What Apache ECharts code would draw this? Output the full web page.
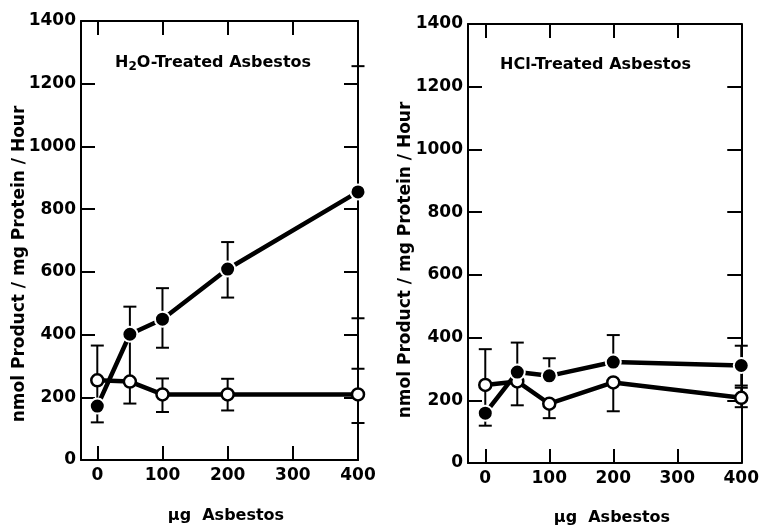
<!DOCTYPE html>
<html>
<head>
<meta charset="utf-8">
<script src="https://cdn.jsdelivr.net/npm/echarts@6/dist/echarts.min.js"></script>
<style>html,body{margin:0;padding:0;background:#fff}#c{width:762px;height:527px}</style>
</head>
<body>
<div id="c"></div>
<script>
// ---- data ----
const doses = [0, 50, 100, 200, 400];            // µg asbestos
const xTicks = [0, 100, 200, 300, 400];
const yTicks = [0, 200, 400, 600, 800, 1000, 1200, 1400];

// H2O-treated panel
const h2oFilled     = [172, 401, 449, 609, 855];
const h2oFilledLow  = [120, 250, 358, 518, 452];
const h2oFilledHigh = [254, 489, 548, 695, 1256];
const h2oOpen       = [254, 250, 209, 209, 209];
const h2oOpenLow    = [254, 180, 153, 158, 118];
const h2oOpenHigh   = [365, 250, 260, 259, 291];

// HCl-treated panel
const hclFilled     = [159, 290, 278, 322, 311];
const hclFilledLow  = [119, 290, 278, 322, 247];
const hclFilledHigh = [249, 384, 334, 408, 374];
const hclOpen       = [249, 260, 189, 257, 208];
const hclOpenLow    = [249, 184, 143, 165, 178];
const hclOpenHigh   = [363, 260, 189, 257, 240];

const FONT = 'DejaVu Sans';
const chart = echarts.init(document.getElementById('c'), null, {renderer: 'canvas'});

function pts(xs, ys) { return xs.map((x, i) => [x, ys[i]]); }
function errData(xs, v, lo, hi) { return xs.map((x, i) => [x, v[i], lo[i], hi[i]]); }

function errSeries(idx, data) {
  return {
    type: 'custom', xAxisIndex: idx * 2, yAxisIndex: idx * 2, z: 1, silent: true,
    data: data,
    renderItem: function (params, api) {
      const x = api.value(0), v = api.value(1), lo = api.value(2), hi = api.value(3);
      const pLo = api.coord([x, lo]), pHi = api.coord([x, hi]);
      const children = [{
        type: 'line', shape: {x1: pLo[0], y1: pLo[1], x2: pHi[0], y2: pHi[1]},
        style: {stroke: '#000', lineWidth: 2}
      }];
      const w = 6.5;
      if (lo !== v) children.push({type: 'line', shape: {x1: pLo[0] - w, y1: pLo[1], x2: pLo[0] + w, y2: pLo[1]}, style: {stroke: '#000', lineWidth: 2}});
      if (hi !== v) children.push({type: 'line', shape: {x1: pHi[0] - w, y1: pHi[1], x2: pHi[0] + w, y2: pHi[1]}, style: {stroke: '#000', lineWidth: 2}});
      return {type: 'group', children: children};
    }
  };
}

function lineSeries(idx, data, filled) {
  return {
    type: 'line', xAxisIndex: idx * 2, yAxisIndex: idx * 2, z: 3, silent: true,
    data: data, symbol: 'circle', symbolSize: filled ? 15 : 12, showSymbol: true,
    lineStyle: {color: '#000', width: 4.5},
    itemStyle: filled ? {color: '#000', borderColor: '#fff', borderWidth: 2}
                      : {color: '#fff', borderColor: '#000', borderWidth: 2.5},
    animation: false
  };
}

function axesFor(gridIndex, xmin) {
  const common = {
    gridIndex: gridIndex,
    axisLine: {show: true, onZero: false, lineStyle: {color: '#000', width: 2}},
    splitLine: {show: false}
  };
  const tick = {width: 2, color: '#000'};
  const lbl = {color: '#000', fontSize: 17, fontWeight: 'bold', fontFamily: FONT};
  const xb = Object.assign({}, common, {
    type: 'value', position: 'bottom', min: xmin, max: 400,
    axisTick: {show: true, inside: true, length: 14, lineStyle: tick, customValues: xTicks},
    axisLabel: Object.assign({show: true, customValues: xTicks, margin: 7}, lbl)
  });
  const xt = Object.assign({}, common, {
    type: 'value', position: 'top', min: xmin, max: 400,
    axisTick: {show: true, inside: true, length: 14, lineStyle: tick, customValues: [0, 100, 200, 300]},
    axisLabel: {show: false}
  });
  const yl = Object.assign({}, common, {
    type: 'value', position: 'left', min: 0, max: 1400, interval: 200,
    axisTick: {show: true, inside: true, length: 14, lineStyle: tick, customValues: yTicks},
    axisLabel: Object.assign({show: true, margin: 5, customValues: yTicks, formatter: v => String(v)}, lbl)
  });
  const yr = Object.assign({}, common, {
    type: 'value', position: 'right', min: 0, max: 1400, interval: 200,
    axisTick: {show: true, inside: true, length: 14, lineStyle: tick, customValues: yTicks},
    axisLabel: {show: false}
  });
  return {x: [xb, xt], y: [yl, yr]};
}

const a0 = axesFor(0, -25), a1 = axesFor(1, -27);

const txt = {fill: '#000', fontFamily: FONT, fontSize: 16, fontWeight: 'bold'};
const yTitle = 'nmol Product / mg Protein / Hour';
const xTitle = 'μg  Asbestos';
const option = {
  backgroundColor: '#fff',
  animation: false,
  grid: [
    {left: 81, top: 21, width: 277, height: 439},
    {left: 468, top: 24, width: 274, height: 439}
  ],
  xAxis: [a0.x[0], a0.x[1], a1.x[0], a1.x[1]],
  yAxis: [a0.y[0], a0.y[1], a1.y[0], a1.y[1]],
  series: [
    errSeries(0, errData(doses, h2oFilled, h2oFilledLow, h2oFilledHigh)),
    errSeries(0, errData(doses, h2oOpen, h2oOpenLow, h2oOpenHigh)),
    lineSeries(0, pts(doses, h2oOpen), false),
    lineSeries(0, pts(doses, h2oFilled), true),
    errSeries(1, errData(doses, hclFilled, hclFilledLow, hclFilledHigh)),
    errSeries(1, errData(doses, hclOpen, hclOpenLow, hclOpenHigh)),
    lineSeries(1, pts(doses, hclOpen), false),
    lineSeries(1, pts(doses, hclFilled), true)
  ],
  graphic: [
    {type: 'text', left: 115, top: 55, style: {
      text: 'H{s|2}O-Treated Asbestos', fill: '#000', fontFamily: FONT, fontSize: 16, fontWeight: 'bold',
      rich: {s: {fontSize: 12, fontWeight: 'bold', fontFamily: FONT, padding: [8, 0, 0, 0]}}}},
    {type: 'text', left: 500, top: 57, style: Object.assign({text: 'HCl-Treated Asbestos'}, txt)},
    {type: 'text', x: 20, y: 264, rotation: Math.PI / 2,
      style: Object.assign({text: yTitle, textAlign: 'center', textVerticalAlign: 'middle'}, txt, {fontSize: 17})},
    {type: 'text', x: 406, y: 260, rotation: Math.PI / 2,
      style: Object.assign({text: yTitle, textAlign: 'center', textVerticalAlign: 'middle'}, txt, {fontSize: 17})},
    {type: 'text', x: 226, y: 516,
      style: Object.assign({text: xTitle, textAlign: 'center', textVerticalAlign: 'middle'}, txt)},
    {type: 'text', x: 612, y: 518,
      style: Object.assign({text: xTitle, textAlign: 'center', textVerticalAlign: 'middle'}, txt)}
  ]
};
chart.setOption(option);
</script>
</body>
</html>
